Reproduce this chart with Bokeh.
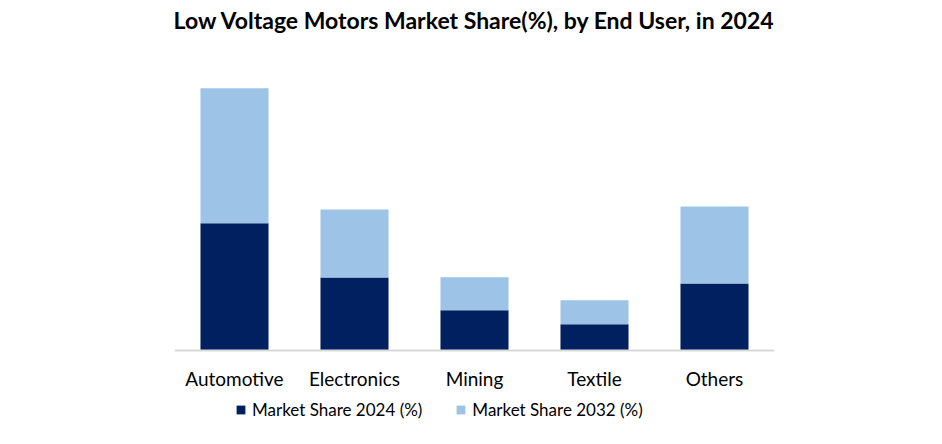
from bokeh.plotting import figure
from bokeh.models import ColumnDataSource, Legend, LegendItem, Range1d, FactorRange, Label
from bokeh.embed import file_html
from bokeh.resources import INLINE

categories = ["Automotive", "Electronics", "Mining", "Textile", "Others"]
share_2024 = [38.0, 21.8, 12.0, 7.8, 20.0]
share_2032 = [40.3, 20.3, 9.9, 7.2, 23.0]
series = ["Market Share 2024 (%)", "Market Share 2032 (%)"]
colors = ["#002060", "#9DC3E6"]
title_text = "Low Voltage Motors Market Share(%), by End User, in 2024"

src = ColumnDataSource(dict(cat=categories, s2024=share_2024, s2032=share_2032))

FONT = "Lato"
PX_PER_UNIT = 3.35
W, H = 926, 428
LEFT, RIGHT = 174, 774
BASE = 350
TITLE_BASELINE = 19

p = figure(x_range=FactorRange(*categories, range_padding=0),
           y_range=Range1d(-(H - BASE) / PX_PER_UNIT, BASE / PX_PER_UNIT),
           width=W, height=H, output_backend="svg", toolbar_location=None,
           title=None,
           min_border_left=LEFT, min_border_right=W - RIGHT,
           min_border_top=0, min_border_bottom=0)

r = p.vbar_stack(["s2024", "s2032"], x="cat", width=0.567, source=src,
                 color=colors, line_color=None)

p.add_layout(Label(x=len(categories) / 2, y=(BASE - TITLE_BASELINE) / PX_PER_UNIT,
                   text=title_text, text_align="center", text_baseline="alphabetic",
                   text_font=FONT, text_font_size="23px", text_font_style="bold",
                   text_color="#000000"))

p.xgrid.grid_line_color = None
p.ygrid.grid_line_color = None
p.yaxis.visible = False
p.outline_line_color = None

ax = p.xaxis[0]
ax.fixed_location = 0
ax.axis_line_color = "#D9D9D9"
ax.axis_line_width = 2
ax.major_tick_line_color = None
ax.minor_tick_line_color = None
ax.major_label_text_font = FONT
ax.major_label_text_font_size = "19px"
ax.major_label_text_color = "#000000"
ax.major_label_standoff = 10

legend = Legend(items=[LegendItem(label=series[0], renderers=[r[0]]),
                       LegendItem(label=series[1], renderers=[r[1]])],
                orientation="horizontal", location=(61, 8),
                glyph_width=11, glyph_height=11, spacing=33, label_standoff=6,
                label_text_font=FONT, label_text_font_size="17px",
                label_text_color="#000000", border_line_color=None,
                background_fill_alpha=0, padding=0, margin=0)
p.add_layout(legend, "center")

open("out.html", "w").write(file_html(p, INLINE))
